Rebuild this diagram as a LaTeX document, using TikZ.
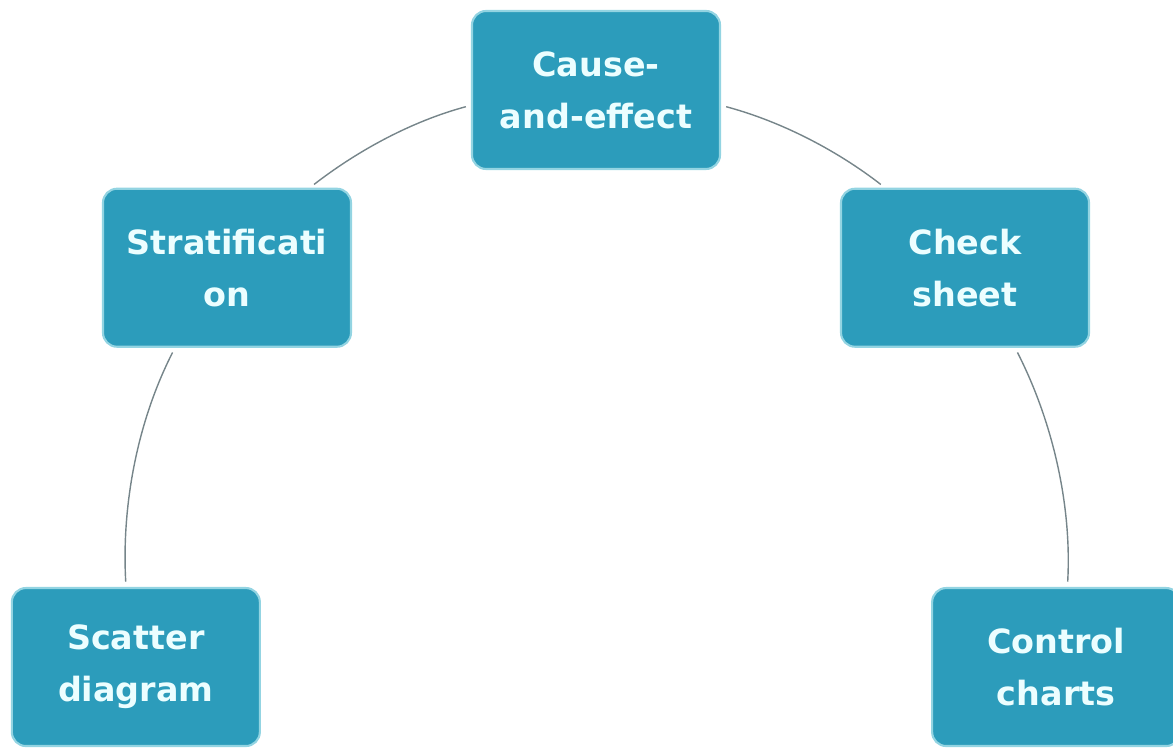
\documentclass[tikz,border=0pt]{standalone}
\usepackage{fontspec}
\setmainfont{DejaVu Sans}
\definecolor{toolfill}{HTML}{2C9CBB}
\definecolor{toolrim}{HTML}{93D4E2}
\definecolor{tooltext}{HTML}{ECFEFF}
\definecolor{arcgray}{HTML}{76858A}
\tikzset{
  toolnode/.style = {align=center, rounded corners=8pt, minimum width=4.96cm, minimum height=3.16cm, inner sep=0pt, draw=toolrim, line width=1.2pt, fill=toolfill, text=tooltext, font=\bfseries\fontsize{19}{29.5}\selectfont},
  arcline/.style = {draw=arcgray, line width=0.8pt, looseness=0.86, shorten <=3pt, shorten >=3pt}
}
\begin{document}
\begin{tikzpicture}
      \useasboundingbox (0,0) rectangle (23.46,14.96);
      \coordinate (hub) at (11.92,3.72);
      \node [toolnode] (cause) at ([shift={(90:9.44)}]hub) {Cause-\\and-effect};
      \node [toolnode] (strat) at ([shift={(141.43:9.44)}]hub) {Stratificati\\on};
      \node [toolnode] (check) at ([shift={(38.57:9.44)}]hub) {Check\\sheet};
      \node [toolnode] (scatter) at ([shift={(192.86:9.44)}]hub) {Scatter\\diagram};
      \node [toolnode] (control) at ([shift={(-12.86:9.44)}]hub) {Control\\charts};
      \draw [arcline] (cause.187.4) to[out=195, in=37.8] (strat.44.6);
      \draw [arcline] (cause.-7.6) to[out=-15, in=142.2] (check.135.4);
      \draw [arcline] (strat.237.2) to[out=242.9, in=93.2] (scatter.97.9);
      \draw [arcline] (check.302.8) to[out=297.1, in=86.8] (control.82.1);
    \end{tikzpicture}
\end{document}
